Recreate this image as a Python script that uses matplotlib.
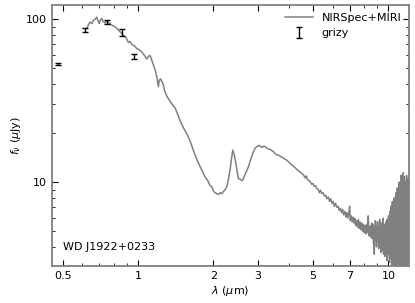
import numpy as np
import matplotlib
matplotlib.use('Agg')
import matplotlib.pyplot as plt
import matplotlib.ticker as ticker

# JWST spectrum (NIRSpec+MIRI)
spec_wave = [0.625, 0.635, 0.644, 0.655, 0.665, 0.675, 0.684, 0.692, 0.700, 0.708,
             0.716, 0.727, 0.738, 0.750, 0.760, 0.772, 0.785, 0.800, 0.822, 0.840,
             0.860, 0.875, 0.890, 0.900, 0.915, 0.930, 0.945, 0.960, 0.972, 0.990,
             1.010, 1.035, 1.060, 1.083, 1.100, 1.117, 1.140, 1.160, 1.170, 1.190,
             1.206, 1.215, 1.230, 1.250, 1.260, 1.280, 1.300, 1.320, 1.350, 1.380,
             1.410, 1.440, 1.470, 1.520, 1.560, 1.610, 1.660, 1.720, 1.780, 1.850,
             1.900, 1.940, 1.970, 2.000, 2.030, 2.060, 2.100, 2.130, 2.160, 2.200,
             2.230, 2.260, 2.290, 2.330, 2.360, 2.390, 2.420, 2.460, 2.490, 2.520,
             2.560, 2.600, 2.620, 2.680, 2.760, 2.820, 2.890, 2.940, 2.980, 3.050,
             3.120, 3.170, 3.220, 3.300, 3.380, 3.470, 3.550, 3.650, 3.810, 3.930,
             4.050, 4.200, 4.350, 4.450, 4.590, 4.650, 4.700, 4.750, 4.820, 4.880,
             4.930, 5.000, 5.050, 5.120, 5.180, 5.250, 5.300, 5.360, 5.420, 5.480,
             5.550, 5.620, 5.680, 5.750, 5.820, 5.880, 5.950, 6.020, 6.080, 6.150,
             6.220, 6.300, 6.360, 6.420, 6.500, 6.560, 6.620, 6.700, 6.760, 6.820,
             6.880, 6.940, 7.000, 7.040, 7.100, 7.160, 7.220, 7.280, 7.340, 7.400,
             7.460, 7.520, 7.580, 7.640, 7.700, 7.760, 7.820, 7.880, 7.940, 8.000,
             8.060, 8.120, 8.180, 8.240, 8.300, 8.360, 8.420]
spec_flux = [88, 93, 96, 94, 99, 100, 103, 98, 94, 99,
             101, 97, 95, 97, 96, 94, 92, 91, 88, 85,
             82, 79, 78, 76, 72, 73, 70, 69, 68, 66,
             65, 63, 60, 57, 59, 60, 55, 51, 49, 44,
             38.5, 42, 43, 41, 40, 36, 34, 32.6, 31, 29.5,
             28.3, 26, 24, 21.5, 20, 18.1, 15.8, 13.7, 12.2, 10.8,
             10.2, 9.5, 9.35, 8.8, 8.6, 8.5, 8.4, 8.6, 8.5, 8.8,
             9.0, 9.35, 10.2, 11.8, 13.8, 15.7, 14.8, 13.0, 11.5, 10.5,
             10.4, 10.2, 10.3, 11.2, 12.4, 13.8, 15.4, 16.2, 16.5, 16.8,
             16.3, 16.6, 16.5, 16.0, 15.8, 15.4, 14.8, 14.6, 14.0, 13.6,
             13.0, 12.4, 11.8, 11.5, 11.0, 10.6, 10.9, 10.4, 10.2, 10.0,
             9.7, 9.8, 9.4, 9.5, 9.1, 9.0, 8.6, 8.9, 8.5, 8.6,
             8.2, 8.3, 7.9, 8.1, 7.6, 7.9, 7.4, 7.6, 7.1, 7.4,
             7.0, 7.1, 6.7, 6.9, 6.5, 6.8, 6.3, 6.6, 6.1, 6.5,
             6.0, 6.4, 7.1, 5.8, 6.2, 5.7, 6.1, 5.6, 6.0, 5.4,
             5.8, 5.3, 5.9, 5.2, 5.7, 5.1, 5.6, 5.0, 5.5, 4.9,
             5.4, 4.8, 5.5, 4.9, 6.2, 4.7, 5.3]

# noisy MIRI tail
tail_wave = [8.48, 8.51, 8.54, 8.57, 8.60, 8.63, 8.66, 8.69, 8.72, 8.75,
             8.78, 8.81, 8.84, 8.87, 8.90, 8.93, 8.96, 8.99, 9.02, 9.05,
             9.08, 9.11, 9.14, 9.17, 9.20, 9.23, 9.26, 9.29, 9.32, 9.35,
             9.38, 9.41, 9.44, 9.47, 9.50, 9.53, 9.56, 9.59, 9.62, 9.65,
             9.68, 9.71, 9.74, 9.77, 9.80, 9.83, 9.86, 9.89, 9.92, 9.95,
             9.98, 10.01, 10.04, 10.07, 10.10, 10.13, 10.16, 10.19, 10.22, 10.25,
             10.28, 10.31, 10.34, 10.37, 10.40, 10.43, 10.46, 10.49, 10.52, 10.55,
             10.58, 10.61, 10.64, 10.67, 10.70, 10.73, 10.76, 10.79, 10.82, 10.85,
             10.88, 10.91, 10.94, 10.97, 11.00, 11.03, 11.06, 11.09, 11.12, 11.15,
             11.18, 11.21, 11.24, 11.27, 11.30, 11.33, 11.36, 11.39, 11.42, 11.45,
             11.48, 11.51, 11.54, 11.57, 11.60, 11.63, 11.66, 11.69, 11.72, 11.75,
             11.78, 11.81, 11.84, 11.87, 11.90, 11.93, 11.96, 11.99, 12.02, 12.05,
             12.08, 12.10]
tail_flux = [4.6, 5.4, 4.9, 5.6, 4.5, 5.1, 4.7, 5.5, 4.2, 5.0,
             3.6, 5.3, 4.6, 5.8, 4.4, 5.0, 4.0, 5.4, 4.8, 5.7,
             4.3, 4.9, 3.9, 5.2, 4.5, 5.9, 4.1, 4.8, 3.7, 5.3,
             4.4, 5.6, 3.8, 5.0, 4.2, 6.0, 3.6, 4.9, 4.3, 5.5,
             3.5, 5.1, 4.0, 5.7, 3.8, 4.7, 3.3, 5.9, 4.1, 5.2,
             3.6, 6.2, 3.9, 4.8, 3.2, 6.6, 4.2, 5.4, 3.4, 7.1,
             3.7, 5.0, 3.0, 7.6, 4.0, 5.8, 3.1, 6.8, 3.6, 8.0,
             2.9, 5.5, 3.8, 7.2, 2.8, 8.6, 3.4, 6.0, 2.7, 9.2,
             3.9, 6.4, 2.8, 8.0, 3.2, 10.0, 4.2, 7.0, 2.6, 9.0,
             3.5, 11.0, 2.7, 7.6, 4.4, 10.5, 2.6, 8.4, 3.3, 11.4,
             2.5, 7.2, 4.0, 10.8, 2.6, 8.8, 3.4, 10.0, 2.5, 7.8,
             4.2, 11.0, 2.6, 9.2, 3.5, 10.4, 2.5, 8.6, 3.8, 9.8,
             2.6, 8.0]

# grizy photometry
phot_wave = [0.481, 0.617, 0.752, 0.866, 0.962]
phot_flux = [53, 86, 96, 83, 59]
phot_err = [1.0, 2.0, 2.5, 4.0, 2.0]

plt.rcParams['font.size'] = 8
fig = plt.figure(figsize=(4.15, 3.03), dpi=100)
ax = fig.add_axes([0.125, 0.122, 0.861, 0.861])

wave = spec_wave + tail_wave
flux = spec_flux + tail_flux
ax.plot(wave, flux, color='grey', linewidth=1.1, label='NIRSpec+MIRI')
ax.errorbar(phot_wave, phot_flux, yerr=phot_err, fmt='none', ecolor='black',
            elinewidth=1.0, capsize=2, capthick=1.0, label='grizy')

ax.set_xscale('log')
ax.set_yscale('log')
ax.set_xlim(0.453, 12.1)
ax.set_ylim(3.05, 122)

ax.xaxis.set_major_locator(ticker.FixedLocator([0.5, 1, 2, 3, 5, 7, 10]))
ax.xaxis.set_major_formatter(ticker.FuncFormatter(lambda v, p: f'{v:g}'))
ax.xaxis.set_minor_locator(ticker.LogLocator(base=10, subs=np.arange(1, 10)))
ax.xaxis.set_minor_formatter(ticker.NullFormatter())
ax.yaxis.set_major_locator(ticker.FixedLocator([10, 100]))
ax.yaxis.set_major_formatter(ticker.FuncFormatter(lambda v, p: f'{v:g}'))
ax.yaxis.set_minor_formatter(ticker.NullFormatter())

ax.tick_params(which='both', direction='in', top=True, right=True)
ax.tick_params(which='major', length=4)
ax.tick_params(which='minor', length=2)
for s in ax.spines.values():
    s.set_color('grey')
    s.set_linewidth(1.3)

ax.set_xlabel(r'$\lambda$ ($\mu$m)', labelpad=2)
ax.set_ylabel(r'$f_\nu$ ($\mu$Jy)', labelpad=2)
ax.text(0.03, 0.06, 'WD J1922+0233', transform=ax.transAxes, fontsize=8)
ax.legend(loc='upper right', frameon=False, fontsize=8, handlelength=2.5,
          borderaxespad=0.3)

plt.savefig('out.png', dpi=100)
